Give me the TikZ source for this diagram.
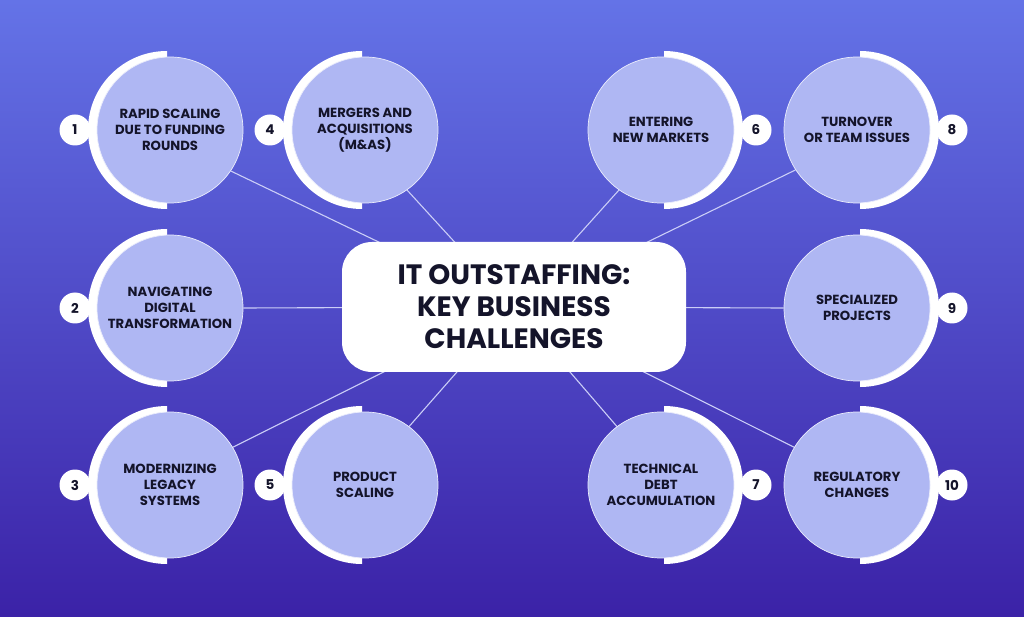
\documentclass[tikz,border=0pt]{standalone}
\usepackage{fontspec}
\setmainfont{Poppins}
\usepackage{tikz}
\usetikzlibrary{positioning}
\definecolor{bgtop}{HTML}{6473E7}
\definecolor{bgbot}{HTML}{3B22A7}
\definecolor{lav}{HTML}{AFB7F3}
\definecolor{ink}{HTML}{14142A}
\definecolor{wire}{HTML}{CBCEF7}
\pgfdeclarelayer{bg}
\pgfdeclarelayer{links}
\pgfsetlayers{bg,links,main}

\begin{document}
\begin{tikzpicture}[x=1pt,y=1pt,
  topic/.style={circle,fill=lav,draw=white!75!lav,line width=0.7pt,minimum size=146pt,inner sep=0pt,
    align=center,text=ink,font=\bfseries\fontsize{13.2}{16}\selectfont},
  badge/.style={circle,fill=white,minimum size=31pt,inner sep=0pt,text=ink,font=\bfseries\fontsize{13.5}{14}\selectfont},
  hub/.style={rectangle,rounded corners=30pt,fill=white,minimum width=344pt,minimum height=130pt,
    align=center,text=ink,font=\bfseries\fontsize{28}{32}\selectfont},
  link/.style={draw=wire,line width=1.1pt}]
\begin{pgfonlayer}{bg}
\shade[top color=bgtop,bottom color=bgbot] (0,0) rectangle (1024,616);
\end{pgfonlayer}
\useasboundingbox (0,0) rectangle (1024,616);

\node[hub] (title) at (514,309) {IT OUTSTAFFING:\\KEY BUSINESS\\CHALLENGES};

\fill[white] (167,565) arc[start angle=90,end angle=270,radius=79] -- cycle;
\node[topic] (c1) at (170,486) {RAPID SCALING\\DUE TO FUNDING\\ROUNDS};
\node[badge] (n1) at (75,486) {1};

\fill[white] (167,387) arc[start angle=90,end angle=270,radius=79] -- cycle;
\node[topic] (c2) at (170,308) {NAVIGATING\\DIGITAL\\TRANSFORMATION};
\node[badge] (n2) at (75,308) {2};

\fill[white] (167,210) arc[start angle=90,end angle=270,radius=79] -- cycle;
\node[topic] (c3) at (170,131) {MODERNIZING\\LEGACY\\SYSTEMS};
\node[badge] (n3) at (75,131) {3};

\fill[white] (362,565) arc[start angle=90,end angle=270,radius=79] -- cycle;
\node[topic] (c4) at (365,486) {MERGERS AND\\ACQUISITIONS\\(M\&AS)};
\node[badge] (n4) at (270,486) {4};

\fill[white] (362,210) arc[start angle=90,end angle=270,radius=79] -- cycle;
\node[topic] (c5) at (365,131) {PRODUCT\\SCALING};
\node[badge] (n5) at (270,131) {5};

\fill[white] (664,565) arc[start angle=90,end angle=-90,radius=79] -- cycle;
\node[topic] (c6) at (661,486) {ENTERING\\NEW MARKETS};
\node[badge] (n6) at (756,486) {6};

\fill[white] (664,210) arc[start angle=90,end angle=-90,radius=79] -- cycle;
\node[topic] (c7) at (661,131) {TECHNICAL\\DEBT\\ACCUMULATION};
\node[badge] (n7) at (756,131) {7};

\fill[white] (860,565) arc[start angle=90,end angle=-90,radius=79] -- cycle;
\node[topic] (c8) at (857,486) {TURNOVER\\OR TEAM ISSUES};
\node[badge] (n8) at (952,486) {8};

\fill[white] (860,387) arc[start angle=90,end angle=-90,radius=79] -- cycle;
\node[topic] (c9) at (857,308) {SPECIALIZED\\PROJECTS};
\node[badge] (n9) at (952,308) {9};

\fill[white] (860,210) arc[start angle=90,end angle=-90,radius=79] -- cycle;
\node[topic] (c10) at (857,131) {REGULATORY\\CHANGES};
\node[badge] (n10) at (952,131) {10};

\begin{pgfonlayer}{links}
\draw[link] (c1.-34) -- (title.center);
\draw[link] (c2.east) -- (title.center);
\draw[link] (c3.31) -- (title.center);
\draw[link] (c4.-55) -- (title.center);
\draw[link] (c5.53) -- (title.center);
\draw[link] (c6.-125) -- (title.center);
\draw[link] (c7.127) -- (title.center);
\draw[link] (c8.-147) -- (title.center);
\draw[link] (c9.west) -- (title.center);
\draw[link] (c10.149) -- (title.center);
\end{pgfonlayer}
\end{tikzpicture}
\end{document}
